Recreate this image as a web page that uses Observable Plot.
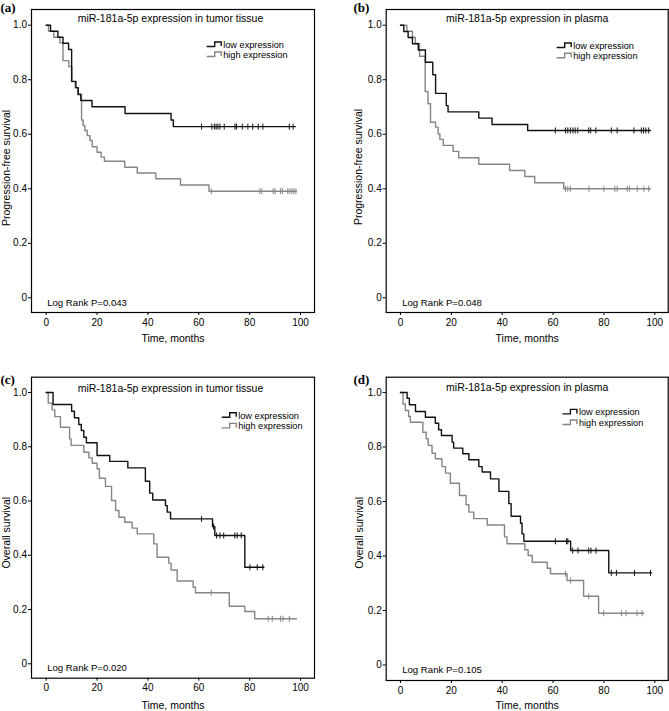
<!DOCTYPE html>
<html><head><meta charset="utf-8">
<script src="https://cdn.jsdelivr.net/npm/d3@7"></script>
<script src="https://cdn.jsdelivr.net/npm/@observablehq/plot@0.6"></script>
<style>
body{margin:0;background:#fff;}
#wrap{position:relative;width:669px;height:711px;overflow:hidden;background:#fff}
#wrap svg{position:absolute;overflow:visible}
</style></head><body><div id="wrap"></div>
<script>
// ---------- data ----------
const xTicks = [0, 20, 40, 60, 80, 100];
const yTicks = [0, 0.2, 0.4, 0.6, 0.8, 1.0];
const seriesNames = ["low expression", "high expression"];
const panelLabels = ["(a)", "(b)", "(c)", "(d)"];
const panelTitles = ["miR-181a-5p expression in tumor tissue", "miR-181a-5p expression in plasma",
                     "miR-181a-5p expression in tumor tissue", "miR-181a-5p expression in plasma"];
const yTitles = ["Progression-free survival", "Progression-free survival", "Overall survival", "Overall survival"];
const xTitle = "Time, months";
const logRank = ["Log Rank P=0.043", "Log Rank P=0.048", "Log Rank P=0.020", "Log Rank P=0.105"];

const aLowT = [0,1.7,4.6,6.6,8.8,10,11.7,12.6,13.6,18,31,49.1,50,98];
const aLowS = [1,0.978,0.956,0.934,0.911,0.794,0.771,0.747,0.724,0.701,0.676,0.652,0.628,0.628];
const aLowCens = [61.1,65.1,66.1,66.8,67.5,68.3,70,74.2,74.8,77.1,79.3,81.2,83.4,85.2,95.6,97.1];
const aHighT = [0,0.9,3,5.4,6.6,8.9,10.1,11.4,12.4,13.9,14.5,15.2,16.1,17.2,18.1,20,21.6,22.9,30.9,35.8,43.1,52.8,64,98.4];
const aHighS = [1,0.978,0.956,0.935,0.87,0.848,0.793,0.77,0.745,0.652,0.632,0.614,0.595,0.577,0.554,0.534,0.516,0.501,0.479,0.458,0.437,0.414,0.391,0.391];
const aHighCens = [64.9,84,84.8,89.3,90,92.1,92.9,95,95.8,96.6,97.4,98.2];

const bLowT = [0,1.3,3,4.7,7,9.8,12.7,13.8,18,18.7,30.8,36,50,98.3];
const bLowS = [1,0.977,0.955,0.932,0.909,0.864,0.818,0.75,0.705,0.682,0.659,0.636,0.614,0.614];
const bLowCens = [60.9,64.9,65.8,66.8,67.8,68.7,69.7,74,74.8,76.8,82.9,85.2,91.8,94.7,95.6,96.5,97.6];
const bHighT = [0,2.5,4.7,5.8,7.5,9.7,10.8,11.8,13.8,14.8,15.5,16.8,20.7,22.9,30.8,42.9,48.9,52.8,64.2,98.3];
const bHighS = [1,0.978,0.956,0.933,0.886,0.757,0.712,0.644,0.626,0.601,0.581,0.559,0.537,0.514,0.49,0.467,0.445,0.422,0.40,0.40];
const bHighCens = [64.9,65.8,66.8,74.1,80,84.3,85.2,89.2,90.1,93.1,95.7,97.6];

const cLowT = [0,2.7,10,11.1,12.8,13.8,14.8,15.8,20,25,32.1,39,40.7,41.9,46.9,47.6,48.9,65.4,66.3,78.1,85.6];
const cLowS = [1,0.956,0.931,0.907,0.882,0.86,0.835,0.815,0.768,0.746,0.722,0.673,0.629,0.604,0.583,0.559,0.534,0.506,0.473,0.356,0.356];
const cLowCens = [61.1,65.8,67,68.3,69.8,74.2,75.1,76.7,80.1,83,85.2];
const cHighT = [0,0.8,2.3,3.4,5.6,9.2,9.8,14.8,16.8,18.1,20,20.9,23.3,25.7,27.3,28.6,30.9,33.8,35.8,42.3,43.6,48.2,49.1,51.5,57.8,58.7,72,78.1,82,98.4];
const cHighS = [1,0.961,0.936,0.911,0.872,0.829,0.805,0.78,0.759,0.739,0.719,0.684,0.654,0.602,0.565,0.54,0.522,0.5,0.479,0.442,0.393,0.371,0.346,0.305,0.282,0.262,0.212,0.193,0.166,0.166];
const cHighCens = [64.9,87.3,88.9,92.1,93.1,95.6];

const dLowT = [0,2.6,3.5,5.9,9.8,13.7,15,16.1,20.3,20.9,24.5,26.9,30.8,32.1,35.4,38.7,42.6,43.5,47.2,47.8,48.5,66.9,81.9,98.7];
const dLowS = [1,0.979,0.955,0.93,0.909,0.887,0.863,0.842,0.818,0.796,0.775,0.753,0.728,0.708,0.683,0.637,0.592,0.546,0.52,0.481,0.454,0.42,0.338,0.338];
const dLowCens = [60.9,65.3,65.8,67.7,69.8,74,74.9,76.9,82.9,84.9,92,98.3];
const dHighT = [0,1,1.9,3.2,3.9,8.8,10.1,10.9,12.4,13.7,16.3,17.7,19.6,23.2,25.8,26.9,28.8,34.1,40.9,41.9,48.9,50.2,51.8,57.7,59,65.5,72,77.9,95.7];
const dHighS = [1,0.958,0.934,0.912,0.891,0.854,0.83,0.806,0.777,0.757,0.728,0.704,0.667,0.622,0.588,0.561,0.537,0.514,0.47,0.445,0.423,0.402,0.377,0.355,0.335,0.31,0.252,0.19,0.19];
const dHighCens = [64.9,66.9,74,79.9,86.9,88.7,93,95];

// ---------- helpers ----------
const SANS = "'Liberation Sans', Arial, Helvetica, sans-serif";
const SERIF = "'Liberation Serif', 'Times New Roman', serif";
const BLACK = "#111111", GREY = "#858585";
const steps = (T, S) => T.map((t, i) => ({t, s: S[i]}));
const cens = (C, T, S) => C.map(c => ({t: c, s: S[d3.bisectRight(T, c) - 1]}));

const layouts = [
  {left: 0,   top: 0,   w: 335, h: 360, ml: 31,   mr: 21,  mt: 9,    mb: 48,   xd: [-5.78, 105.5],  yd: [-0.0539, 1.0576],
   leg: [191.7, 35.5, 45.5], lr: [15.7, -10], yt: [-25.3, 7], tt: [-2.5, 9],  xt: 26.6, pl: [-31, -2]},
  {left: 335, top: 0,   w: 334, h: 360, ml: 50.7, mr: 1.3, mt: 9,    mb: 48,   xd: [-5.62, 105.27], yd: [-0.0539, 1.0576],
   leg: [187, 36.5, 46.8],   lr: [16, -9.7],  yt: [-27.2, 6], tt: [0, 9.3],  xt: 26.6, pl: [-32.7, -2]},
  {left: 0,   top: 360, w: 335, h: 351, ml: 31,   mr: 21,  mt: 16.7, mb: 33.3, xd: [-5.78, 105.5],  yd: [-0.0531, 1.0564],
   leg: [206.7, 38.5, 49.2], lr: [15.7, -10.4], yt: [-25.3, 5], tt: [-2.5, 11.7], xt: 27.3, pl: [-31, 2.3]},
  {left: 335, top: 360, w: 334, h: 351, ml: 50.7, mr: 1.3, mt: 16.7, mb: 31,   xd: [-5.62, 105.27], yd: [-0.0569, 1.0561],
   leg: [192.7, 35.2, 45.8], lr: [16, -11], yt: [-27, 4], tt: [0, 10.7], xt: 25, pl: [-32.7, 2.3]}
];

const series = [
  [aLowT, aLowS, aLowCens, aHighT, aHighS, aHighCens],
  [bLowT, bLowS, bLowCens, bHighT, bHighS, bHighCens],
  [cLowT, cLowS, cLowCens, cHighT, cHighS, cHighCens],
  [dLowT, dLowS, dLowCens, dHighT, dHighS, dHighCens]
];

const wrap = document.getElementById("wrap");

layouts.forEach((L, k) => {
  const [lt, ls, lc, ht, hs, hc] = series[k];
  const low = steps(lt, ls), high = steps(ht, hs);
  const lowC = cens(lc, lt, ls), highC = cens(hc, ht, hs);
  const unit = (L.h - L.mt - L.mb) / (L.yd[1] - L.yd[0]); // px per survival unit
  const half = 3 / unit;
  const plot = Plot.plot({
    width: L.w, height: L.h,
    marginLeft: L.ml, marginRight: L.mr, marginTop: L.mt, marginBottom: L.mb,
    style: {fontFamily: SANS, fontSize: "10px", background: "white", color: "black", overflow: "visible"},
    x: {domain: L.xd},
    y: {domain: L.yd},
    marks: [
      Plot.axisX({ticks: xTicks, tickSize: 3, tickPadding: 3, label: null, fontSize: 10, stroke: "black"}),
      Plot.axisY({ticks: yTicks, tickSize: 3, tickPadding: 1.5, label: null, fontSize: 10,
                  tickFormat: d => d === 0 ? "0" : d.toFixed(1)}),
      Plot.line(high, {x: "t", y: "s", curve: "step-after", stroke: GREY, strokeWidth: 1.4}),
      Plot.line(low, {x: "t", y: "s", curve: "step-after", stroke: BLACK, strokeWidth: 1.4}),
      Plot.link(highC, {x1: "t", x2: "t", y1: d => d.s - half, y2: d => d.s + half, stroke: GREY, strokeWidth: 1}),
      Plot.link(lowC, {x1: "t", x2: "t", y1: d => d.s - half, y2: d => d.s + half, stroke: BLACK, strokeWidth: 1}),
      Plot.frame({stroke: "black", strokeWidth: 1.2}),
      Plot.text([panelTitles[k]], {frameAnchor: "top", dx: L.tt[0], dy: L.tt[1], lineAnchor: "middle", textAnchor: "middle", fontSize: 10.5, fill: "black"}),
      Plot.text([seriesNames[0]], {frameAnchor: "top-left", dx: L.leg[0], dy: L.leg[1], lineAnchor: "middle", textAnchor: "start", fontSize: 9.2, fill: "black"}),
      Plot.text([seriesNames[1]], {frameAnchor: "top-left", dx: L.leg[0], dy: L.leg[2], lineAnchor: "middle", textAnchor: "start", fontSize: 9.2, fill: "black"}),
      Plot.text([logRank[k]], {frameAnchor: "bottom-left", dx: L.lr[0], dy: L.lr[1], lineAnchor: "middle", textAnchor: "start", fontSize: 9.6, fill: "black"}),
      Plot.text([xTitle], {frameAnchor: "bottom", dy: L.xt, lineAnchor: "middle", textAnchor: "middle", fontSize: 10.5, fill: "black"}),
      Plot.text([yTitles[k]], {frameAnchor: "left", dx: L.yt[0], dy: L.yt[1], rotate: -90, lineAnchor: "middle", textAnchor: "middle", fontSize: 10.5, fill: "black"}),
      Plot.text([panelLabels[k]], {frameAnchor: "top-left", dx: L.pl[0], dy: L.pl[1], lineAnchor: "middle", textAnchor: "start", fontSize: 13, fontWeight: "bold", fontFamily: SERIF, fill: "black"})
    ]
  });
  plot.style.left = L.left + "px";
  plot.style.top = L.top + "px";
  plot.style.maxWidth = "none";
  // legend step symbols
  const svg = d3.select(plot);
  [[BLACK, L.leg[1]], [GREY, L.leg[2]]].forEach(([col, dy]) => {
    const x0 = L.ml + L.leg[0] - 16, y = L.mt + dy;
    svg.append("path")
      .attr("d", `M${x0},${y + 2}H${x0 + 8}V${y - 2.5}H${x0 + 14.5}V${y + 1.5}`)
      .attr("fill", "none").attr("stroke", col).attr("stroke-width", 1.4);
  });
  wrap.appendChild(plot);
});
</script>
</body></html>
